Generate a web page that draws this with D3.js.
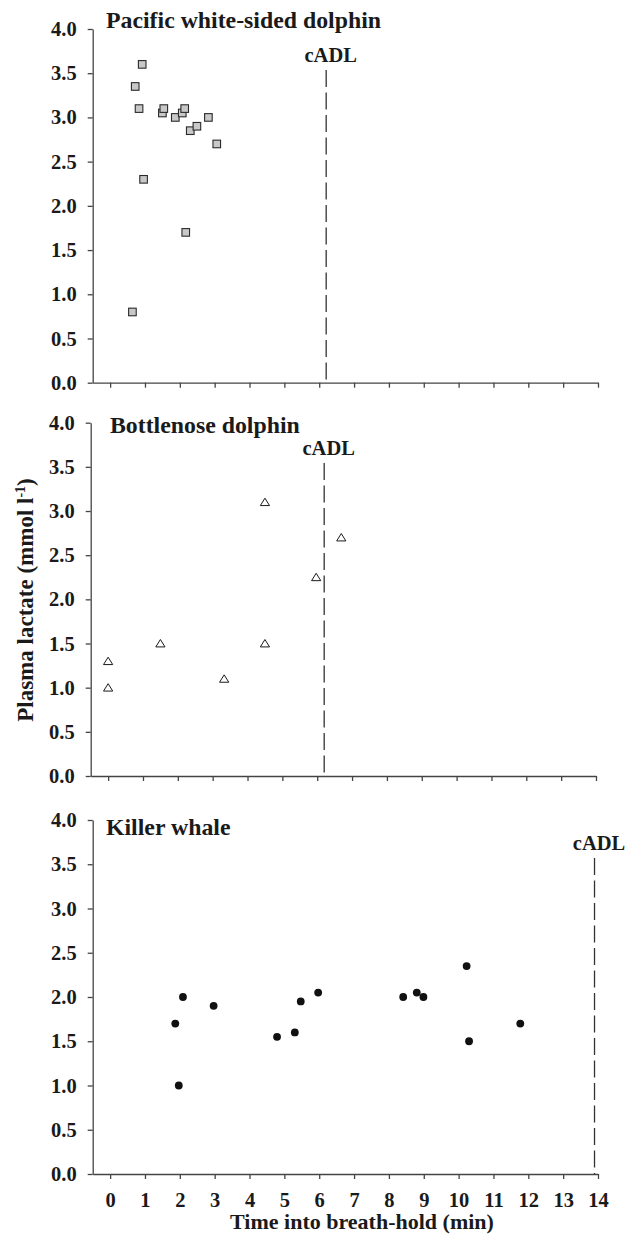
<!DOCTYPE html>
<html>
<head>
<meta charset="utf-8">
<script src="https://cdn.jsdelivr.net/npm/d3@7"></script>
<style>
  body { margin: 0; background: #fff; }
  svg text { font-family: "Liberation Serif", "Times New Roman", serif; font-weight: bold; fill: #1a1a1a; }
</style>
</head>
<body>
<div id="chart"></div>
<script>
// panel names
var species = ["Pacific white-sided dolphin", "Bottlenose dolphin", "Killer whale"]

// Pacific white-sided dolphin
var pwsdTime = [0.72, 0.92, 0.83, 0.96, 0.64, 1.50, 1.54, 1.87, 2.07, 2.14, 2.30, 2.49, 2.17, 2.82, 3.06]
var pwsdLactate = [3.35, 3.6, 3.1, 2.3, 0.8, 3.05, 3.1, 3.0, 3.05, 3.1, 2.85, 2.9, 1.7, 3.0, 2.7]

// Bottlenose dolphin
var bndTime = [0, 0, 1.5, 3.33, 4.5, 4.5, 5.97, 6.69]
var bndLactate = [1.3, 1.0, 1.5, 1.1, 3.1, 1.5, 2.25, 2.7]

// Killer whale
var kwTime = [1.87, 1.97, 2.09, 2.97, 4.79, 5.3, 5.47, 5.97, 8.41, 8.8, 8.99, 10.23, 10.3, 11.77]
var kwLactate = [1.7, 1.0, 2.0, 1.9, 1.55, 1.6, 1.95, 2.05, 2.0, 2.05, 2.0, 2.35, 1.5, 1.7]

// calculated aerobic dive limit for each species (min)
var cadl = [6.2, 6.2, 13.9]

var xTicks = [0,1,2,3,4,5,6,7,8,9,10,11,12,13,14]
var yTicks = [0, 0.5, 1.0, 1.5, 2.0, 2.5, 3.0, 3.5, 4.0]

var svg = d3.select("#chart").append("svg")
    .attr("width", 627)
    .attr("height", 1238)

// layout of each panel (left, right, top, bottom in px)
var panels = [
  {left: 92.7, right: 598, top: 29, bottom: 382.7, titleX: 106, titleY: 28, cadlY: 62, time: pwsdTime, lac: pwsdLactate, mark: "square"},
  {left: 90.7, right: 596, top: 422.7, bottom: 776, titleX: 110, titleY: 433, cadlY: 455, time: bndTime, lac: bndLactate, mark: "triangle"},
  {left: 92.7, right: 598, top: 820, bottom: 1174, titleX: 106, titleY: 835, cadlY: 850, time: kwTime, lac: kwLactate, mark: "circle"}
]

var axisColor = "#444"
var serif = "'Liberation Serif', 'Times New Roman', serif"

panels.forEach(function(p, k) {
  var x = d3.scaleLinear().domain([-0.5, 14]).range([p.left, p.right])
  var y = d3.scaleLinear().domain([0, 4]).range([p.bottom, p.top])
  var g = svg.append("g")

  g.append("g")
      .attr("transform", "translate(" + p.left + ",0)")
      .call(d3.axisLeft(y).tickValues(yTicks).tickSize(5).tickSizeOuter(0).tickPadding(11).tickFormat(d3.format(".1f")))
      .attr("font-family", serif)
  g.append("g")
      .attr("transform", "translate(0," + p.bottom + ")")
      .call(d3.axisBottom(x).tickValues(xTicks).tickSize(5).tickSizeOuter(0).tickPadding(13)
        .tickFormat(k == 2 ? d3.format("d") : function() { return "" }))
      .attr("font-family", serif)

  g.selectAll(".domain, .tick line").attr("stroke", axisColor).attr("stroke-width", 1.3)
  g.selectAll(".tick text").attr("font-size", 20.5).attr("fill", "#1a1a1a")
    .style("font-family", serif).style("font-weight", "bold")

  g.append("text")
      .attr("x", p.titleX)
      .attr("y", p.titleY)
      .attr("font-size", 23.8)
      .text(species[k])

  // cADL dashed line and label
  g.append("line")
      .attr("x1", x(cadl[k])).attr("x2", x(cadl[k]))
      .attr("y1", p.cadlY + 8).attr("y2", p.bottom)
      .attr("stroke", "#333")
      .attr("stroke-width", 1.3)
      .attr("stroke-dasharray", "17,5.5")
  g.append("text")
      .attr("x", x(cadl[k]) + 4.5)
      .attr("y", p.cadlY)
      .attr("text-anchor", "middle")
      .attr("font-size", 20.5)
      .text("cADL")

  var pts = p.time.map(function(t, i) { return [t, p.lac[i]] })
  if (p.mark == "square") {
    g.selectAll(".pt").data(pts).enter().append("rect")
        .attr("x", function(d) { return x(d[0]) - 3.8 })
        .attr("y", function(d) { return y(d[1]) - 3.8 })
        .attr("width", 7.6).attr("height", 7.6)
        .attr("fill", "#c8c8c8")
        .attr("stroke", "#2a2a2a")
        .attr("stroke-width", 1.1)
  } else if (p.mark == "triangle") {
    g.selectAll(".pt").data(pts).enter().append("path")
        .attr("transform", function(d) { return "translate(" + x(d[0]) + "," + y(d[1]) + ")" })
        .attr("d", "M0,-4 L4.6,3.4 L-4.6,3.4 Z")
        .attr("fill", "#fff")
        .attr("stroke", "#1a1a1a")
        .attr("stroke-width", 1)
  } else {
    g.selectAll(".pt").data(pts).enter().append("circle")
        .attr("cx", function(d) { return x(d[0]) })
        .attr("cy", function(d) { return y(d[1]) })
        .attr("r", 3.9)
        .attr("fill", "#111")
  }
})

// axis titles
var ylab = svg.append("text")
    .attr("transform", "translate(33,600) rotate(-90)")
    .attr("text-anchor", "middle")
    .attr("font-size", 23)
ylab.append("tspan").text("Plasma lactate (mmol l")
ylab.append("tspan").attr("font-size", 14).attr("dy", -8).text("-1")
ylab.append("tspan").attr("dy", 8).text(")")

svg.append("text")
    .attr("x", 362)
    .attr("y", 1229)
    .attr("text-anchor", "middle")
    .attr("font-size", 22)
    .text("Time into breath-hold (min)")
</script>
</body>
</html>
